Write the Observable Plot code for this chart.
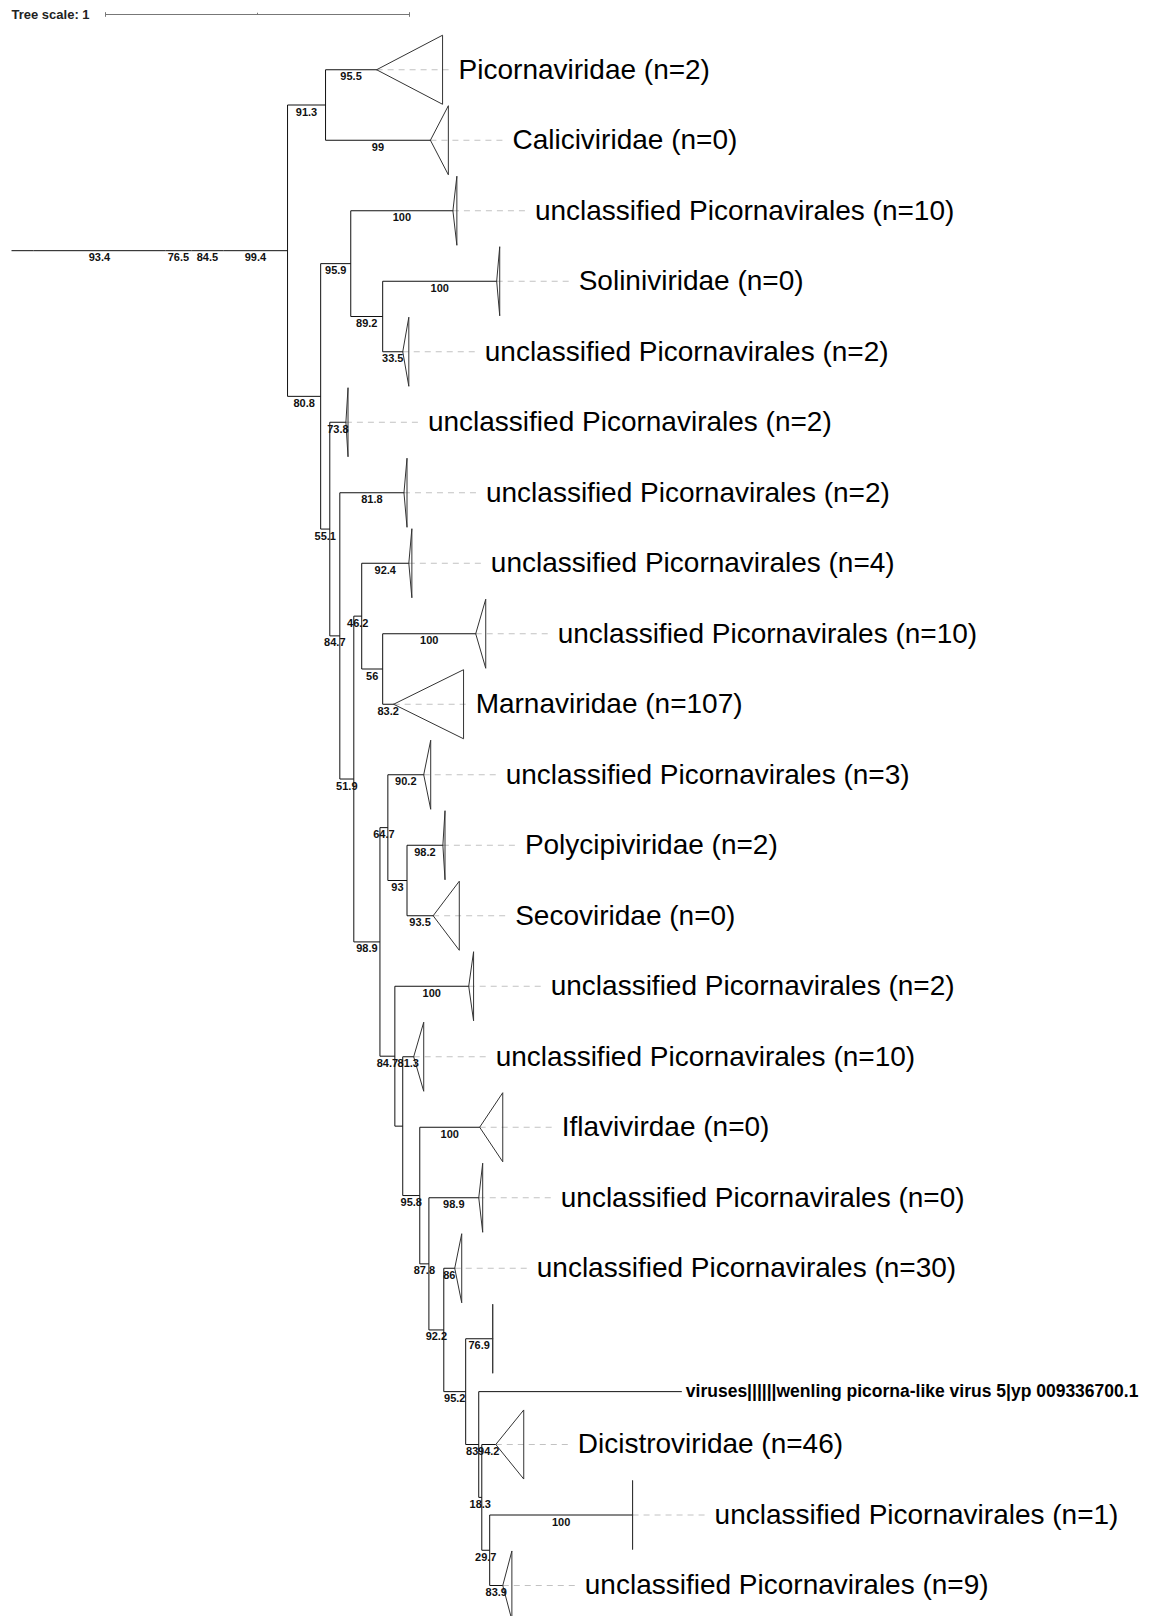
<!DOCTYPE html>
<html>
<head>
<meta charset="utf-8">
<script src="https://cdn.jsdelivr.net/npm/d3@7"></script>
<script src="https://cdn.jsdelivr.net/npm/@observablehq/plot@0.6"></script>
<style>
  html, body { margin: 0; padding: 0; background: #fff; }
  #chart svg { display: block; }
</style>
</head>
<body>
<div id="chart"></div>
<script>
// ---------------- DATA ----------------
// Tree nodes in pre-order: id, parent, branch length (tree units), bootstrap support
const nodeIds = ["r0","r1","r2","r3","r4","n","A","L1","L2","B","C","L3","E","L4","L5","D","L6","F","L7","G","H","L8","J","L9","L10","I","K","L11","P","L12","L13","M","L14","Q","L15","S","L16","T","L17","U","L18","V","L19","W","L20","X","L21","Y","L22","L23"];
const parentIds = [null,"r0","r1","r2","r3","r4","n","A","A","n","B","C","C","E","E","B","D","D","F","F","G","H","H","J","J","G","I","K","K","P","P","I","M","M","Q","Q","S","S","T","T","U","U","V","V","W","W","X","X","Y","Y"];
const branchLengths = [0,0.072,0.434,0.086,0.105,0.211,0.125,0.168,0.345,0.109,0.099,0.336,0.105,0.375,0.066,0.030,0.053,0.033,0.211,0.046,0.026,0.155,0.069,0.306,0.036,0.086,0.026,0.118,0.063,0.118,0.086,0.049,0.243,0.026,0.036,0.056,0.197,0.030,0.164,0.049,0.036,0.072,0.089,0.043,0.668,0.010,0.046,0.026,0.470,0.043];
const supportValues = [null,null,93.4,76.5,84.5,99.4,91.3,95.5,99,80.8,95.9,100,89.2,100,33.5,55.1,73.8,84.7,81.8,51.9,46.2,92.4,56,100,83.2,98.9,64.7,90.2,93,98.2,93.5,84.7,100,null,81.3,95.8,100,87.8,98.9,92.2,86,95.2,76.9,83,null,18.3,94.2,29.7,100,83.9];

// Leaves (collapsed clades have a triangle depth; plain leaves have null)
const leafIds = ["L1","L2","L3","L4","L5","L6","L7","L8","L9","L10","L11","L12","L13","L14","L15","L16","L17","L18","L19","L20","L21","L22","L23"];
const leafNames = [
  "Picornaviridae (n=2)",
  "Caliciviridae (n=0)",
  "unclassified Picornavirales (n=10)",
  "Soliniviridae (n=0)",
  "unclassified Picornavirales (n=2)",
  "unclassified Picornavirales (n=2)",
  "unclassified Picornavirales (n=2)",
  "unclassified Picornavirales (n=4)",
  "unclassified Picornavirales (n=10)",
  "Marnaviridae (n=107)",
  "unclassified Picornavirales (n=3)",
  "Polycipiviridae (n=2)",
  "Secoviridae (n=0)",
  "unclassified Picornavirales (n=2)",
  "unclassified Picornavirales (n=10)",
  "Iflavivirdae (n=0)",
  "unclassified Picornavirales (n=0)",
  "unclassified Picornavirales (n=30)",
  "",
  "viruses||||||wenling picorna-like virus 5|yp 009336700.1",
  "Dicistroviridae (n=46)",
  "unclassified Picornavirales (n=1)",
  "unclassified Picornavirales (n=9)"
];
const cladeDepths = [0.217,0.059,0.013,0.010,0.020,0.007,0.010,0.010,0.033,0.230,0.023,0.007,0.086,0.016,0.033,0.076,0.013,0.023,0,null,0.092,0,0.030];

const scaleBarLength = 1;
const scaleBarLabel = "Tree scale: 1";

// ---------------- LAYOUT ----------------
const W = 1151, H = 1616;
const X0 = 11, PX_PER_UNIT = 304;     // x pixel of root, pixels per tree unit
const Y0 = 34, SLOT = 70.5;           // top offset, pixels per collapsed clade slot
const HALF = 0.49;                    // triangle half height in slots
const LABEL_GAP = 82;                 // px from clade apex to label
const DASH_LEN = 77;                  // px length of dotted guide
const SCALE_ROW = (14 - Y0) / SLOT;
const SCALE_START = (105 - X0) / PX_PER_UNIT;
const FONT = "'Liberation Sans', Arial, Helvetica, sans-serif";

// ---------------- BUILD TREE ----------------
const byId = new Map();
nodeIds.forEach((id, i) => byId.set(id, {id, parent: parentIds[i], len: branchLengths[i], support: supportValues[i], children: []}));
for (const nd of byId.values()) if (nd.parent) byId.get(nd.parent).children.push(nd);
const root = byId.get(nodeIds[0]);
(function setDepth(nd, d) { nd.depth = d; nd.children.forEach(c => setDepth(c, d + c.len)); })(root, 0);

const leafInfo = new Map(leafIds.map((id, i) => [id, {name: leafNames[i], width: cladeDepths[i]}]));
let cursor = 0;
(function setY(nd) {
  if (!nd.children.length) {
    const info = leafInfo.get(nd.id);
    const size = info.width == null ? 0.5 : 1;
    nd.y = cursor + size / 2;
    cursor += size;
    nd.info = info;
  } else {
    nd.children.forEach(setY);
    nd.y = (nd.children[0].y + nd.children[nd.children.length - 1].y) / 2;
  }
})(root);

const all = [...byId.values()];
const branches = all.filter(nd => nd.parent).map(nd => ({x1: byId.get(nd.parent).depth, x2: nd.depth, y: nd.y}));
const connectors = all.filter(nd => nd.children.length > 1).map(nd => ({x: nd.depth, y1: nd.children[0].y, y2: nd.children[nd.children.length - 1].y}));
const supports = all.filter(nd => nd.parent && nd.support != null).map(nd => ({x: (byId.get(nd.parent).depth + nd.depth) / 2, y: nd.y, t: String(nd.support)}));
const leaves = all.filter(nd => !nd.children.length);
const clades = leaves.filter(nd => nd.info.width != null);
const plainLeaves = leaves.filter(nd => nd.info.width == null);
const triPts = clades.flatMap(nd => [
  {id: nd.id, x: nd.depth, y: nd.y},
  {id: nd.id, x: nd.depth + nd.info.width, y: nd.y - HALF},
  {id: nd.id, x: nd.depth + nd.info.width, y: nd.y + HALF},
  {id: nd.id, x: nd.depth, y: nd.y}
]);
const dashes = clades.filter(nd => nd.info.name).map(nd => ({x1: nd.depth, x2: nd.depth + DASH_LEN / PX_PER_UNIT, y: nd.y}));
const cladeText = clades.filter(nd => nd.info.name).map(nd => ({x: nd.depth, y: nd.y, name: nd.info.name}));
const leafText = plainLeaves.map(nd => ({x: nd.depth, y: nd.y, name: nd.info.name}));

const scaleTicks = [
  {x: SCALE_START, y1: SCALE_ROW - 0.033, y2: SCALE_ROW + 0.033},
  {x: SCALE_START + scaleBarLength / 2, y1: SCALE_ROW - 0.025, y2: SCALE_ROW},
  {x: SCALE_START + scaleBarLength, y1: SCALE_ROW - 0.033, y2: SCALE_ROW + 0.033}
];

const chart = Plot.plot({
  width: W,
  height: H,
  margin: 0,
  x: {type: "linear", domain: [0, 1], range: [X0, X0 + PX_PER_UNIT], axis: null},
  y: {type: "linear", domain: [0, 1], range: [Y0, Y0 + SLOT], axis: null},
  style: {fontFamily: FONT, background: "#fff", color: "#000", overflow: "visible"},
  marks: [
    Plot.link(dashes, {x1: "x1", x2: "x2", y1: "y", y2: "y", stroke: "#c2c2c2", strokeWidth: 1, strokeDasharray: "6,5"}),
    Plot.link(branches, {x1: "x1", x2: "x2", y1: "y", y2: "y", stroke: "#111", strokeWidth: 1}),
    Plot.link(connectors, {x1: "x", x2: "x", y1: "y1", y2: "y2", stroke: "#111", strokeWidth: 1}),
    Plot.line(triPts, {x: "x", y: "y", z: "id", stroke: "#333", strokeWidth: 1, fill: "none"}),
    Plot.text(supports, {x: "x", y: "y", text: "t", dy: 7, fontSize: 11, fontWeight: "bold", fill: "#111"}),
    Plot.text(cladeText, {x: "x", y: "y", text: "name", dx: LABEL_GAP, textAnchor: "start", fontSize: 28, fill: "#000"}),
    Plot.text(leafText, {x: "x", y: "y", text: "name", dx: 4, textAnchor: "start", fontSize: 17.5, fontWeight: "bold", fill: "#000"}),
    Plot.link([{x1: SCALE_START, x2: SCALE_START + scaleBarLength, y: SCALE_ROW}], {x1: "x1", x2: "x2", y1: "y", y2: "y", stroke: "#777", strokeWidth: 1}),
    Plot.link(scaleTicks, {x1: "x", x2: "x", y1: "y1", y2: "y2", stroke: "#777", strokeWidth: 1}),
    Plot.text([{x: 0, y: SCALE_ROW, t: scaleBarLabel}], {x: "x", y: "y", text: "t", textAnchor: "start", fontSize: 13, fontWeight: "bold", fill: "#222"})
  ]
});
document.getElementById("chart").appendChild(chart);
</script>
</body>
</html>
